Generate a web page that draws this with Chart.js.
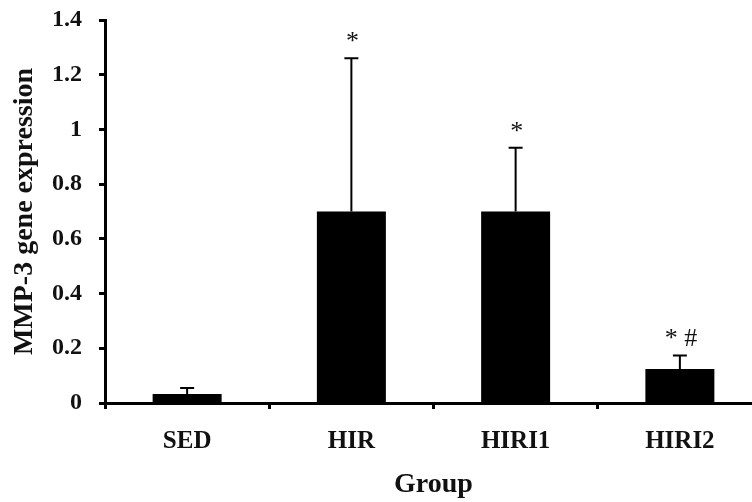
<!DOCTYPE html>
<html>
<head>
<meta charset="utf-8">
<script src="https://cdn.jsdelivr.net/npm/chart.js@4/dist/chart.umd.min.js"></script>
<style>
  html, body { margin: 0; padding: 0; background: #fff; overflow: hidden; }
  #wrap { width: 762px; height: 502px; }
</style>
</head>
<body>
<div id="wrap"><canvas id="chart" width="762" height="502"></canvas></div>
<script>
// group names and values
const groups = ['SED', 'HIR', 'HIRI1', 'HIRI2'];
const means = [0.033, 0.70, 0.70, 0.124];
const upperErr = [0.022, 0.56, 0.233, 0.05];
const marks = ['', '*', '*', '* #'];
const yTicks = [0, 0.2, 0.4, 0.6, 0.8, 1, 1.2, 1.4];

const serif = "'Liberation Serif', 'Times New Roman', serif";

// draws the upper error bars and the significance marks
const errorBars = {
  id: 'errorBars',
  afterDatasetsDraw(chart) {
    const ctx = chart.ctx;
    const meta = chart.getDatasetMeta(0);
    const y = chart.scales.y;
    ctx.save();
    ctx.strokeStyle = '#000';
    ctx.lineWidth = 2;
    meta.data.forEach((bar, i) => {
      const x = bar.x;
      const top = y.getPixelForValue(means[i] + upperErr[i]);
      ctx.beginPath();
      ctx.moveTo(x, bar.y);
      ctx.lineTo(x, top);
      ctx.moveTo(x - 7, top);
      ctx.lineTo(x + 7, top);
      ctx.stroke();
      if (marks[i]) {
        ctx.fillStyle = '#111';
        ctx.font = '26px ' + serif;
        ctx.textAlign = 'center';
        ctx.textBaseline = 'middle';
        ctx.fillText(marks[i], x + 1, top - 16);
      }
    });
    ctx.restore();
  }
};

const whiteBg = {
  id: 'whiteBg',
  beforeDraw(chart) {
    const ctx = chart.ctx;
    ctx.save();
    ctx.fillStyle = '#fff';
    ctx.fillRect(0, 0, chart.width, chart.height);
    ctx.restore();
  }
};

new Chart(document.getElementById('chart').getContext('2d'), {
  type: 'bar',
  data: {
    labels: groups,
    datasets: [{
      label: 'MMP-3 gene expression',
      data: means,
      backgroundColor: '#000',
      borderWidth: 0,
      categoryPercentage: 1,
      barPercentage: 0.42
    }]
  },
  options: {
    responsive: false,
    animation: false,
    layout: { padding: { top: 20, left: 0, right: 0, bottom: 0 } },
    plugins: {
      legend: { display: false },
      tooltip: { enabled: false }
    },
    scales: {
      x: {
        grid: {
          offset: true,
          drawOnChartArea: false,
          drawTicks: true,
          tickLength: 6,
          tickWidth: 3,
          tickColor: '#000'
        },
        border: { display: true, color: '#000', width: 3 },
        ticks: {
          color: '#111',
          padding: 18,
          font: { family: serif, size: 25, weight: 'bold' }
        },
        title: {
          display: true,
          text: 'Group',
          color: '#111',
          padding: { top: 0, bottom: 0 },
          font: { family: serif, size: 28, weight: 'bold' }
        },
        afterFit(scale) { scale.height = 99; }
      },
      y: {
        min: 0,
        max: 1.4,
        afterBuildTicks(scale) { scale.ticks = yTicks.map(v => ({ value: v })); },
        grid: {
          drawOnChartArea: false,
          drawTicks: true,
          tickLength: 6,
          tickWidth: 3,
          tickColor: '#000'
        },
        border: { display: true, color: '#000', width: 3 },
        ticks: {
          color: '#111',
          padding: 17,
          font: { family: serif, size: 24, weight: 'bold' },
          callback: v => String(v)
        },
        title: {
          display: true,
          text: 'MMP-3 gene expression',
          color: '#111',
          padding: { top: 8, bottom: 0 },
          font: { family: serif, size: 28, weight: 'bold' }
        },
        afterFit(scale) {
          scale.width = 105;
          scale.paddingTop = 0;
          scale.paddingBottom = 0;
        }
      }
    }
  },
  plugins: [whiteBg, errorBars]
});
</script>
</body>
</html>
